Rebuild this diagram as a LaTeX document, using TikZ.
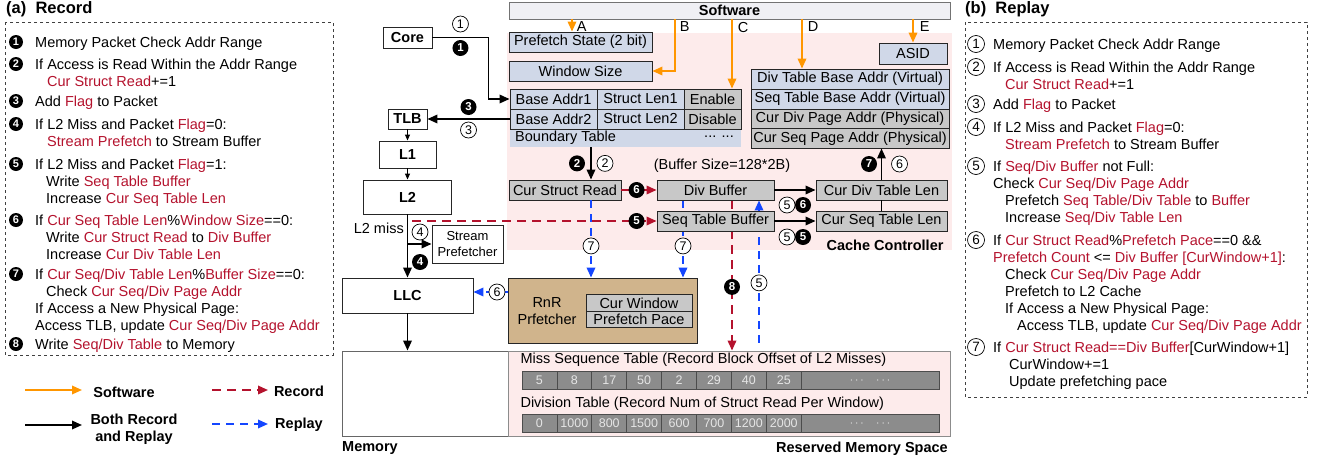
\documentclass[tikz,border=0pt]{standalone}
\usepackage{fontspec}
\setmainfont{Liberation Sans}
\usetikzlibrary{arrows.meta}

\pgfdeclarelayer{background}
\pgfdeclarelayer{behind}
\pgfsetlayers{background,behind,main}

\definecolor{recred}{RGB}{180,18,45}
\definecolor{swor}{RGB}{255,150,0}
\definecolor{repblue}{RGB}{20,70,255}
\definecolor{lavfill}{RGB}{208,216,232}
\definecolor{cellgray}{RGB}{200,200,200}
\definecolor{memgray}{RGB}{140,140,140}
\definecolor{tanfill}{RGB}{208,180,140}
\definecolor{pinkfill}{RGB}{253,235,235}
\definecolor{swfill}{RGB}{240,240,244}

\newcommand{\fs}{\fontsize{14.5}{17}\selectfont}
\newcommand{\rt}[1]{\textcolor{recred}{#1}}

\begin{document}
\begin{tikzpicture}[x=1pt, y=-1pt, font=\fs]

    \tikzstyle{box} = [rectangle, draw=black!85, line width=0.9pt, inner sep=0pt, minimum height=20pt]
    \tikzstyle{lav} = [box, fill=lavfill]
    \tikzstyle{gry} = [box, fill=cellgray]
    \tikzstyle{hw} = [box, fill=white, font=\fs\bfseries]
    \tikzstyle{memcell} = [rectangle, draw=black!70, fill=memgray, text=black!10, line width=0.8pt, minimum width=34.9pt, minimum height=18pt, inner sep=0pt, font=\fontsize{12.5}{12}\selectfont]
    \tikzstyle{bnum} = [circle, solid, fill=black, text=white, inner sep=0pt, minimum size=16pt, font=\fontsize{11.5}{12}\selectfont\bfseries]
    \tikzstyle{wnum} = [circle, solid, draw=black, fill=white, text=black, line width=0.7pt, inner sep=0pt, minimum size=16pt, font=\fontsize{12.5}{12}\selectfont]
    \tikzstyle{pbul} = [bnum, minimum size=14pt, font=\fontsize{11}{11}\selectfont\bfseries]
    \tikzstyle{pwul} = [wnum, minimum size=17pt, font=\fontsize{13.5}{14}\selectfont]
    \tikzstyle{arrow} = [line width=1.8pt, -{Triangle[length=10pt,width=8.5pt]}]
    \tikzstyle{thinarrow} = [line width=0.9pt, -{Triangle[length=6pt,width=5pt]}]
    \tikzstyle{swarrow} = [arrow, swor]
    \tikzstyle{recarrow} = [arrow, recred, dash pattern=on 9pt off 6pt]
    \tikzstyle{reparrow} = [arrow, repblue, dash pattern=on 8pt off 6pt]
    \tikzstyle{letter} = [anchor=north west, inner sep=1pt, text=black]
    \tikzstyle{itemtext} = [anchor=base west, inner sep=0pt]
    \tikzstyle{paneltitle} = [anchor=west, inner sep=0pt, font=\fontsize{16.5}{17}\selectfont\bfseries]
    \tikzstyle{lbl} = [font=\fs\bfseries]
    \tikzstyle{panel} = [draw=black!75, dashed, line width=0.8pt]

    \useasboundingbox (0,0) rectangle (1322,461);

    % (a) Record
    \node[paneltitle] (rectitle) at (6,9) {(a)\ \ Record};
    \draw[panel] (5,22) rectangle (333,355);
    \node[pbul] (rb1) at (16,42) {1};
    \node[itemtext] (rec1) at (35,47) {Memory Packet Check Addr Range};
    \node[pbul] (rb2) at (16,64) {2};
    \node[itemtext] (rec2a) at (35,69) {If Access is Read Within the Addr Range};
    \node[itemtext] (rec2b) at (47,86) {\rt{Cur Struct Read}+=1};
    \node[pbul] (rb3) at (16,101) {3};
    \node[itemtext] (rec3) at (35,106) {Add \rt{Flag} to Packet};
    \node[pbul] (rb4) at (16,124) {4};
    \node[itemtext] (rec4a) at (35,129) {If L2 Miss and Packet \rt{Flag}=0:};
    \node[itemtext] (rec4b) at (47,146) {\rt{Stream Prefetch} to Stream Buffer};
    \node[pbul] (rb5) at (16,164) {5};
    \node[itemtext] (rec5a) at (35,169) {If L2 Miss and Packet \rt{Flag}=1:};
    \node[itemtext] (rec5b) at (46,186) {Write \rt{Seq Table Buffer}};
    \node[itemtext] (rec5c) at (46,203) {Increase \rt{Cur Seq Table Len}};
    \node[pbul] (rb6) at (16,220) {6};
    \node[itemtext] (rec6a) at (35,225) {If \rt{Cur Seq Table Len}\%\rt{Window Size}==0:};
    \node[itemtext] (rec6b) at (46,242) {Write \rt{Cur Struct Read} to \rt{Div Buffer}};
    \node[itemtext] (rec6c) at (46,259) {Increase \rt{Cur Div Table Len}};
    \node[pbul] (rb7) at (16,274) {7};
    \node[itemtext] (rec7a) at (35,279) {If \rt{Cur Seq/Div Table Len}\%\rt{Buffer Size}==0:};
    \node[itemtext] (rec7b) at (46,296) {Check \rt{Cur Seq/Div Page Addr}};
    \node[itemtext] (rec7c) at (35,313) {If Access a New Physical Page:};
    \node[itemtext] (rec7d) at (35,330) {Access TLB, update \rt{Cur Seq/Div Page Addr}};
    \node[pbul] (rb8) at (16,344) {8};
    \node[itemtext] (rec8) at (35,349) {Write \rt{Seq/Div Table} to Memory};

    % legend
    \coordinate (lgsws) at (25,390);
    \coordinate (lgswe) at (82,390);
    \draw[swarrow] (lgsws) -- (lgswe);
    \node[lbl] (lgsw) at (124,392) {Software};
    \coordinate (lgrecs) at (212,390);
    \coordinate (lgrece) at (268,390);
    \draw[recarrow] (lgrecs) -- (lgrece);
    \node[lbl] (lgrec) at (299,391) {Record};
    \coordinate (lgboths) at (25,425);
    \coordinate (lgbothe) at (82,425);
    \draw[arrow] (lgboths) -- (lgbothe);
    \node[lbl, align=center] (lgboth) at (134,429.5) {Both Record\\and Replay};
    \coordinate (lgreps) at (212,424);
    \coordinate (lgrepe) at (268,424);
    \draw[reparrow] (lgreps) -- (lgrepe);
    \node[lbl] (lgrep) at (299,425) {Replay};

    % cache controller
    \begin{pgfonlayer}{background}
        \fill[pinkfill] (507,33) rectangle (952,250);
    \end{pgfonlayer}
    \node[box, fill=swfill, draw=black!55, minimum width=441pt, minimum height=17pt, font=\fs\bfseries] (sw) at (729.5,10.5) {Software};
    \node[lav, minimum width=143pt] (state) at (580.5,42) {Prefetch State (2 bit)};
    \node[lav, minimum width=143pt] (winsize) at (580.5,71) {Window Size};
    \node[fill=lavfill, minimum width=231pt, minimum height=18pt, inner sep=0pt] (btab) at (625.5,138) {};
    \node[lav, minimum width=87pt] (ba1) at (553.5,99) {Base Addr1};
    \node[lav, minimum width=87pt] (sl1) at (640.5,99) {Struct Len1};
    \node[gry, minimum width=57pt] (en) at (712.5,99) {Enable};
    \node[lav, minimum width=87pt] (ba2) at (553.5,119) {Base Addr2};
    \node[lav, minimum width=87pt] (sl2) at (640.5,119) {Struct Len2};
    \node[gry, minimum width=57pt] (dis) at (712.5,119) {Disable};
    \node[anchor=west, inner sep=0pt] (btabname) at (515,138) {Boundary Table};
    \node (btabdots) at (719,137) {... ...};
    \node[lav, minimum width=68pt, minimum height=21pt] (asid) at (913,53.5) {ASID};
    \node[lav, minimum width=198pt] (divbase) at (850,79) {Div Table Base Addr (Virtual)};
    \node[lav, minimum width=198pt] (seqbase) at (850,99) {Seq Table Base Addr (Virtual)};
    \node[gry, minimum width=198pt, minimum height=19.5pt] (curdiv) at (850,118.75) {Cur Div Page Addr (Physical)};
    \node[gry, minimum width=198pt, minimum height=19.5pt] (curseq) at (850,138.25) {Cur Seq Page Addr (Physical)};
    \node[gry, minimum width=112pt] (csr) at (565,190) {Cur Struct Read};
    \node[gry, minimum width=117pt] (divbuf) at (715.5,190) {Div Buffer};
    \node[gry, minimum width=117pt] (seqbuf) at (715.5,221) {Seq Table Buffer};
    \node[gry, minimum width=131pt] (curdivlen) at (881.5,190) {Cur Div Table Len};
    \node[gry, minimum width=131pt] (curseqlen) at (881.5,221) {Cur Seq Table Len};
    \node (bufsize) at (722,166) {(Buffer Size=128*2B)};
    \node[lbl, anchor=east] (cclbl) at (947,245) {Cache Controller};

    % core side
    \node[hw, minimum width=49pt, minimum height=21pt] (core) at (407.5,37.5) {Core};
    \node[hw, minimum width=39pt] (tlb) at (407.5,119) {TLB};
    \node[hw, minimum width=57pt, minimum height=27pt] (l1) at (407.5,154.5) {L1};
    \node[hw, minimum width=88pt, minimum height=34pt] (l2) at (407.5,197) {L2};
    \node[box, fill=white, minimum width=71pt, minimum height=38pt, align=center, font=\fontsize{13}{16}\selectfont] (spf) at (467.5,244) {Stream\\Prefetcher};
    \node[hw, minimum width=131pt, minimum height=35pt] (llc) at (407.5,295.5) {LLC};

    % RnR prefetcher
    \node[box, fill=tanfill, minimum width=189pt, minimum height=65pt] (rnr) at (602.5,310.5) {};
    \node[align=center, inner sep=0pt] (rnrname) at (547,311) {RnR\\Prfetcher};
    \node[gry, minimum width=106pt, minimum height=16.5pt] (curwin) at (639,303) {Cur Window};
    \node[gry, minimum width=106pt, minimum height=16.5pt] (pfpace) at (639,319.5) {Prefetch Pace};

    % memory
    \node[box, fill=white, draw=black!60, minimum width=608pt, minimum height=85pt] (memory) at (646,393.5) {};
    \node[box, fill=pinkfill, draw=black!45, minimum width=442pt, minimum height=85pt] (reserved) at (729,393.5) {};
    \node[anchor=west] (misslbl) at (517,360) {Miss Sequence Table (Record Block Offset of L2 Misses)};
    \foreach \v [count=\i] in {5,8,17,50,2,29,40,25}
        \node[memcell] (miss\i) at ({504.55+34.9*\i},380.5) {\v};
    \node[memcell, minimum width=138pt] (missdots) at (870,380.5) {$\cdots$\quad$\cdots$};
    \node[anchor=west] (divlbl) at (517,404) {Division Table (Record Num of Struct Read Per Window)};
    \foreach \v [count=\i] in {0,1000,800,1500,600,700,1200,2000}
        \node[memcell] (div\i) at ({504.55+34.9*\i},423.5) {\v};
    \node[memcell, minimum width=138pt] (divdots) at (870,423.5) {$\cdots$\quad$\cdots$};
    \node[lbl, anchor=west, inner sep=0pt] (memlbl) at (342,448) {Memory};
    \node[lbl, anchor=east, inner sep=0pt] (reslbl) at (948,449) {Reserved Memory Space};

    % Arrows
    \draw[swarrow] ([xshift=-157.5pt]sw.south) node[letter, xshift=3pt] (la) {A} -- ([xshift=-157.5pt]sw.south |- state.north);
    \draw[swarrow] ([xshift=-54.5pt]sw.south) node[letter, xshift=3pt] (lb) {B} |- (winsize.east);
    \draw[swarrow] ([xshift=2.5pt]sw.south) node[letter, xshift=4pt, yshift=-1pt] (lc) {C} -- ([xshift=2.5pt]sw.south |- en.north);
    \draw[swarrow] ([xshift=72.5pt]sw.south) node[letter, xshift=4pt] (ld) {D} -- ([xshift=72.5pt]sw.south |- divbase.north);
    \draw[swarrow] (asid.north |- sw.south) node[letter, xshift=5pt] (le) {E} -- (asid.north);

    \draw[arrow] (core.east) -- ++(56,0) node[wnum, midway, yshift=13.5pt] (c1) {1} node[bnum, midway, yshift=-10.5pt] (b1) {1} |- (ba1.west);
    \draw[arrow] (ba2.west) -- (tlb.east) node[bnum, midway, yshift=12pt] (b3) {3} node[wnum, midway, yshift=-11pt] (c3) {3};
    \draw[thinarrow] (tlb.south) -- (l1.north);
    \draw[thinarrow] (l1.south) -- (l2.north);
    \draw[arrow] (l2.south) -- (llc.north);
    \draw[arrow] (l2.south |- spf.west) -- (spf.west);
    \node[anchor=east, inner sep=1pt] (l2miss) at (405,228) {L2 miss};
    \node[wnum] (c4) at (420,232) {4};
    \node[bnum] (b4) at (420,262) {4};
    \draw[arrow] (llc.south) -- (llc.south |- memory.north);

    \draw[recarrow] ([xshift=4.5pt]l2.south |- seqbuf.west) -- (seqbuf.west) node[bnum, pos=1, xshift=-20pt] (b5) {5};
    \draw[arrow] ([xshift=26pt]csr.north |- btab.south) -- ([xshift=26pt]csr.north) node[bnum, midway, xshift=-14pt] (b2) {2} node[wnum, midway, xshift=14pt] (c2) {2};
    \draw[arrow, recred] (csr.east) -- (divbuf.west) node[bnum, pos=1, xshift=-20pt] (b6) {6};
    \draw[arrow] (divbuf.east) -- (curdivlen.west) node[wnum, midway, xshift=-8pt, yshift=-15pt] (c5a) {5} node[bnum, midway, xshift=8pt, yshift=-15pt] (b6a) {6};
    \draw[arrow] (seqbuf.east) -- (curseqlen.west) node[wnum, midway, xshift=-8pt, yshift=-16pt] (c5b) {5} node[bnum, midway, xshift=8pt, yshift=-16pt] (b5a) {5};
    \draw[line width=1pt] (curseqlen.north) -- (curdivlen.south);
    \draw[arrow] (curdivlen.north) -- (curdivlen.north |- curseq.south) node[bnum, midway, xshift=-12.5pt] (b7) {7} node[wnum, midway, xshift=18pt] (c6) {6};
    \draw[reparrow] ([xshift=26pt]csr.south) -- ([xshift=26pt]csr.south |- rnr.north) node[wnum, pos=0.59] (c7a) {7};
    \draw[reparrow] ([yshift=3.5pt]rnr.west |- llc.east) -- ([yshift=3.5pt]llc.east) node[wnum, pos=0.31] (c6a) {6};

    \begin{pgfonlayer}{behind}
        \draw[reparrow] ([xshift=-32.5pt]divbuf.south) -- ([xshift=-32.5pt]divbuf.south |- rnr.north) node[wnum, pos=0.59] (c7b) {7};
        \draw[recarrow] ([xshift=16.5pt]divbuf.south) -- ([xshift=16.5pt]divbuf.south |- memory.north) node[bnum, pos=0.576] (b8) {8};
        \draw[reparrow] ([xshift=43.5pt, yshift=8pt]divbuf.south |- memory.north) -- ([xshift=43.5pt]divbuf.south) node[wnum, pos=0.42] (c5c) {5};
    \end{pgfonlayer}

    % (b) Replay
    \node[paneltitle] (reptitle) at (965,9) {(b)\ \ Replay};
    \draw[panel] (965,22) rectangle (1307,397);
    \node[pwul] (pb1) at (976,44) {1};
    \node[itemtext] (rep1) at (993,49) {Memory Packet Check Addr Range};
    \node[pwul] (pb2) at (976,67) {2};
    \node[itemtext] (rep2a) at (993,72) {If Access is Read Within the Addr Range};
    \node[itemtext] (rep2b) at (1005,89) {\rt{Cur Struct Read}+=1};
    \node[pwul] (pb3) at (976,104) {3};
    \node[itemtext] (rep3) at (993,109) {Add \rt{Flag} to Packet};
    \node[pwul] (pb4) at (976,127) {4};
    \node[itemtext] (rep4a) at (993,132) {If L2 Miss and Packet \rt{Flag}=0:};
    \node[itemtext] (rep4b) at (1005,149) {\rt{Stream Prefetch} to Stream Buffer};
    \node[pwul] (pb5) at (976,166) {5};
    \node[itemtext] (rep5a) at (993,171) {If \rt{Seq/Div Buffer} not Full:};
    \node[itemtext] (rep5b) at (993,188) {Check \rt{Cur Seq/Div Page Addr}};
    \node[itemtext] (rep5c) at (1005,205) {Prefetch \rt{Seq Table/Div Table} to \rt{Buffer}};
    \node[itemtext] (rep5d) at (1005,222) {Increase \rt{Seq/Div Table Len}};
    \node[pwul] (pb6) at (976,240) {6};
    \node[itemtext] (rep6a) at (993,245) {If \rt{Cur Struct Read}\%\rt{Prefetch Pace}==0 \&\&};
    \node[itemtext] (rep6b) at (993,262) {\rt{Prefetch Count} <= \rt{Div Buffer [CurWindow+1]}:};
    \node[itemtext] (rep6c) at (1005,279) {Check \rt{Cur Seq/Div Page Addr}};
    \node[itemtext] (rep6d) at (1005,296) {Prefetch to L2 Cache};
    \node[itemtext] (rep6e) at (1005,313) {If Access a New Physical Page:};
    \node[itemtext] (rep6f) at (1017,330) {Access TLB, update \rt{Cur Seq/Div Page Addr}};
    \node[pwul] (pb7) at (976,347) {7};
    \node[itemtext] (rep7a) at (993,352) {If \rt{Cur Struct Read==Div Buffer}[CurWindow+1]};
    \node[itemtext] (rep7b) at (1009,369) {CurWindow+=1};
    \node[itemtext] (rep7c) at (1009,386) {Update prefetching pace};

\end{tikzpicture}
\end{document}
